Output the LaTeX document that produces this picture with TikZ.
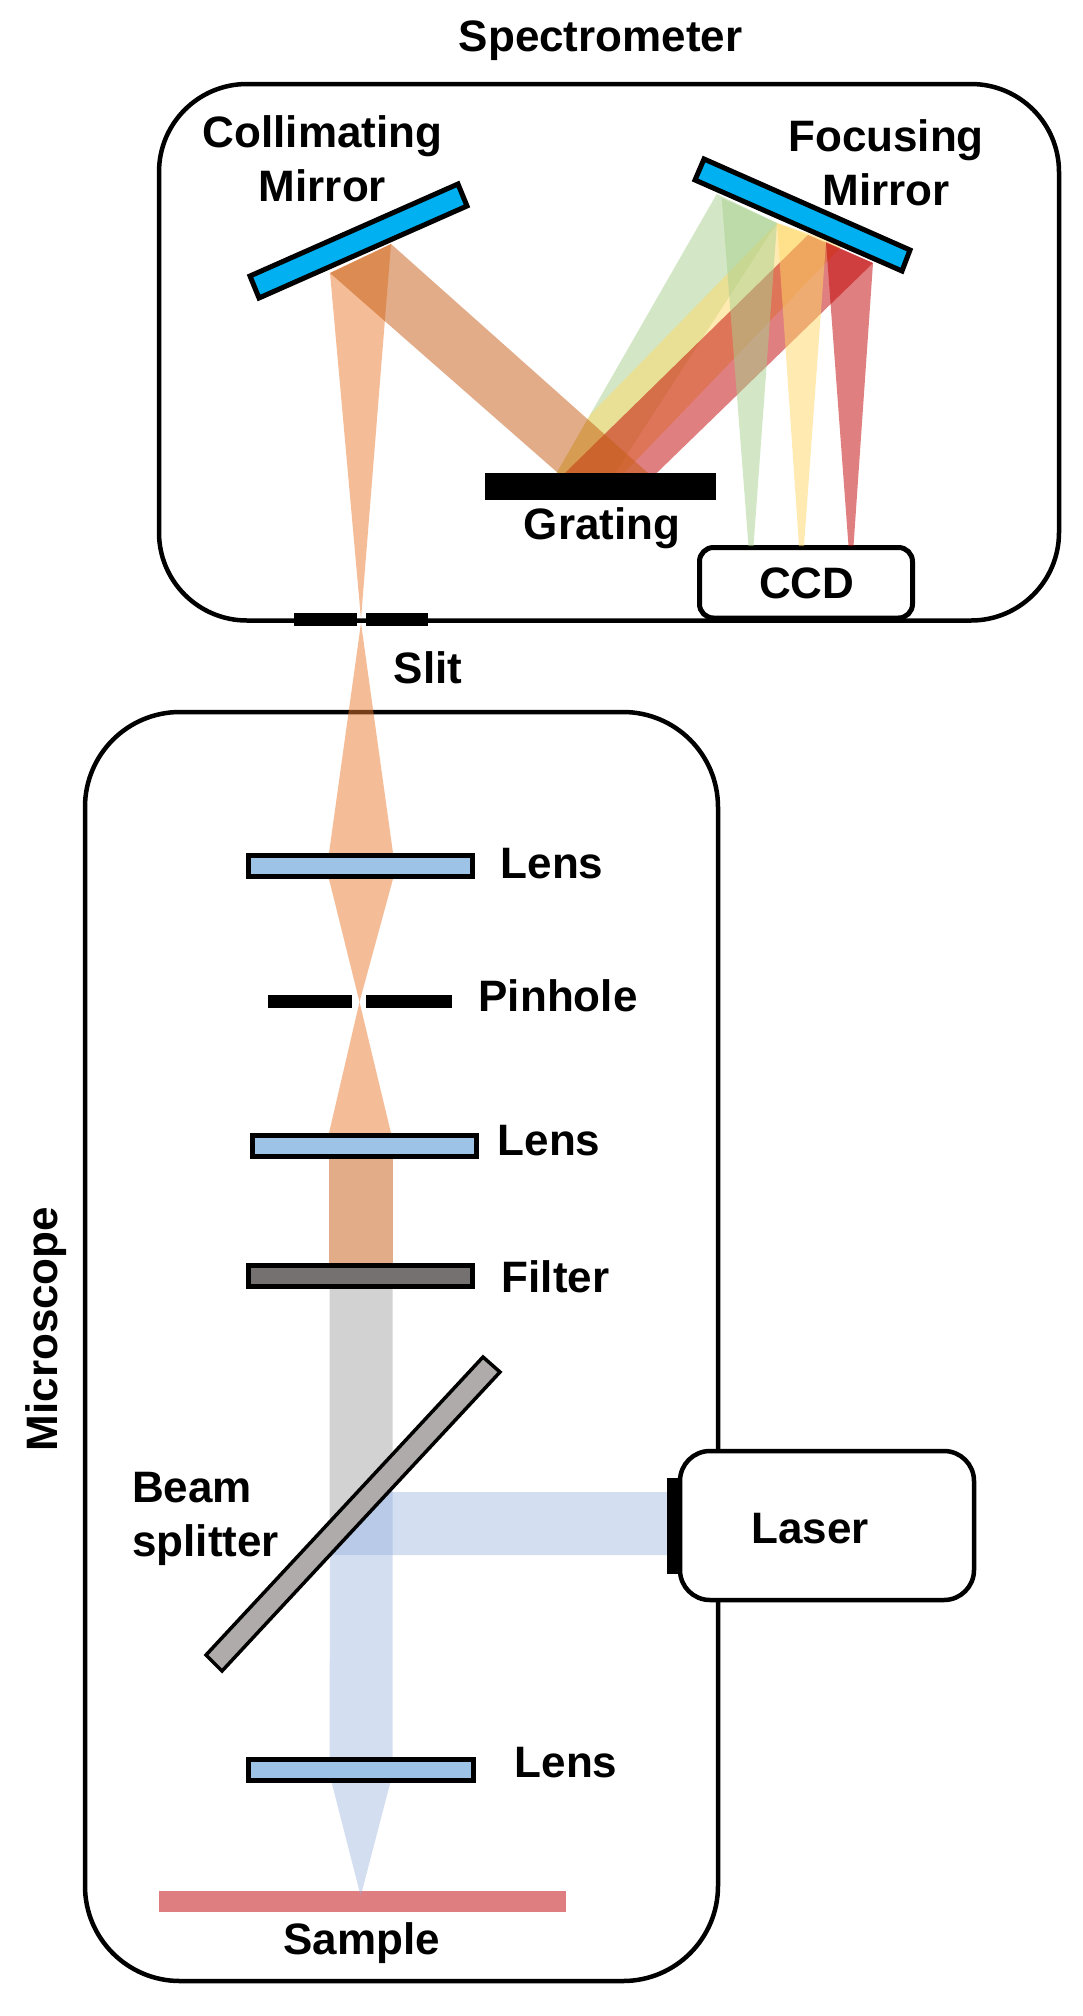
\documentclass[tikz,border=0pt]{standalone}
\usepackage{fontspec}
\setmainfont{Liberation Sans}
\definecolor{mirrorblue}{HTML}{00B0F0}
\definecolor{lensblue}{HTML}{9DC3E6}
\definecolor{filtergrey}{HTML}{767171}
\definecolor{splitgrey}{HTML}{AFABAB}
\definecolor{beampeach}{HTML}{ED7D31}
\definecolor{beambrown}{HTML}{C55A11}
\definecolor{beamgrey}{HTML}{A6A6A6}
\definecolor{beamblue}{HTML}{8FAADC}
\definecolor{beamgreen}{HTML}{A9D18E}
\definecolor{beamyellow}{HTML}{FFD966}
\definecolor{beamred}{HTML}{C00000}
\definecolor{samplered}{HTML}{DF7E80}
\tikzset{
  lbl/.style={inner sep=0pt, align=center, font=\fontsize{44}{54}\selectfont\bfseries},
  box/.style={draw=black, line width=4.5pt, fill=white},
  optic/.style={draw=black, line width=5pt, line join=miter},
  stop/.style={fill=black, draw=none},
  peach/.style={fill=beampeach, fill opacity=.5},
  brown/.style={fill=beambrown, fill opacity=.5},
  greyb/.style={fill=beamgrey, fill opacity=.5},
  blueb/.style={fill=beamblue, fill opacity=.38},
  greenb/.style={fill=beamgreen, fill opacity=.5},
  yellowb/.style={fill=beamyellow, fill opacity=.5},
  redb/.style={fill=beamred, fill opacity=.5},
}
\begin{document}
\begin{tikzpicture}[x=1pt,y=-1pt]
\useasboundingbox (0,0) rectangle (1082,2016);
\fill[white] (0,0) rectangle (1082,2016);

% housings
\draw[box, rounded corners=88pt] (159,84) rectangle (1059,620.5);
\draw[box, rounded corners=95pt] (85,712) rectangle (718,1981);
\draw[box, rounded corners=30pt] (680,1451) rectangle (974,1600);
\draw[box, line width=5pt, rounded corners=14pt] (699.5,547.5) rectangle (912.5,618);

% spectrometer beams
\fill[peach] (361,619) -- (330,273) -- (391,244) -- cycle;
\fill[greenb] (716.7,194) -- (777,223) -- (615,473) -- (556.7,473) -- cycle;
\fill[yellowb] (777,223) -- (843,245) -- (624,473) -- (556.7,473) -- (590,415) -- cycle;
\fill[redb] (808,235) -- (873,263) -- (656.7,473) -- (565,473) -- cycle;
\fill[greenb] (721.7,198) -- (777,223) -- (753.5,546) -- (748.5,546) -- cycle;
\fill[yellowb] (777,223) -- (826,242) -- (804,546) -- (799,546) -- cycle;
\fill[redb] (826,242) -- (873,263) -- (853.5,546) -- (848.5,546) -- cycle;
\fill[brown] (330,273) -- (391,244) -- (648,473) -- (558,473) -- cycle;

% microscope beams
\fill[peach] (361,623) -- (393,853) -- (393,879) -- (359.5,1002) -- (329,879) -- (329,853) -- cycle;
\fill[peach] (359.5,1002) -- (391,1133) -- (391,1140) -- (329,1140) -- (329,1133) -- cycle;
\fill[brown] (329,1159) rectangle (392.6,1263);
\fill[greyb] (329.5,1289) -- (392.6,1289) -- (392.6,1457) -- (329.5,1525) -- cycle;
\fill[blueb] (388,1492) -- (668,1492) -- (668,1555) -- (330,1555) -- cycle;
\fill[blueb] (330,1555) -- (392.6,1487) -- (392.6,1760) -- (329.5,1760) -- cycle;

% optics
\fill[samplered] (159,1890.7) rectangle (565.7,1911.7);
\fill[blueb] (331,1780) -- (391,1780) -- (360.7,1896) -- cycle;
\fill[stop] (485,473) rectangle (716,500);
\draw[optic, fill=mirrorblue] (458,184) -- (467,206) -- (259,298) -- (250,276) -- cycle;
\draw[optic, fill=mirrorblue] (704,159) -- (910,250) -- (902,271) -- (695,180) -- cycle;
\draw[optic, fill=lensblue] (248.5,855.5) rectangle (472.5,876.5);
\draw[optic, fill=lensblue] (252.5,1135.5) rectangle (476.5,1156.5);
\draw[optic, fill=filtergrey] (248.5,1265.5) rectangle (472.5,1286.5);
\draw[optic, fill=lensblue] (248,1759.2) rectangle (473.2,1780.8);
\draw[draw=black, line width=3.5pt, fill=splitgrey] (483,1357) -- (500,1372) -- (222,1671) -- (206,1655) -- cycle;
\fill[stop] (294,613) rectangle (357,626);
\fill[stop] (366,613) rectangle (428,626);
\fill[stop] (267.6,995) rectangle (352.4,1008);
\fill[stop] (365.8,995) rectangle (451.5,1008);
\fill[stop] (667,1478) rectangle (680,1574);

% labels
\node[lbl] (spec) at (600.6,41) {Spectrometer};
\node[lbl] (coll) at (322.5,159) {Collimating\\Mirror};
\node[lbl] (focu) at (886,163) {Focusing\\Mirror};
\node[lbl] (grat) at (602,528) {Grating};
\node[lbl] (ccd) at (806.7,583) {CCD};
\node[lbl] (slit) at (428,668) {Slit};
\node[lbl] (lens1) at (552,864) {Lens};
\node[lbl] (pinh) at (558,996) {Pinhole};
\node[lbl] (lens2) at (549,1141) {Lens};
\node[lbl] (filt) at (555.5,1277) {Filter};
\node[lbl, anchor=base, rotate=90] (micr) at (57,1329) {Microscope};
\node[lbl, align=left, anchor=west] (beam) at (132,1519) {Beam\\splitter};
\node[lbl] (laser) at (810,1529) {Laser};
\node[lbl] (lens3) at (566,1763) {Lens};
\node[lbl] (samp) at (361.7,1943) {Sample};
\end{tikzpicture}
\end{document}
